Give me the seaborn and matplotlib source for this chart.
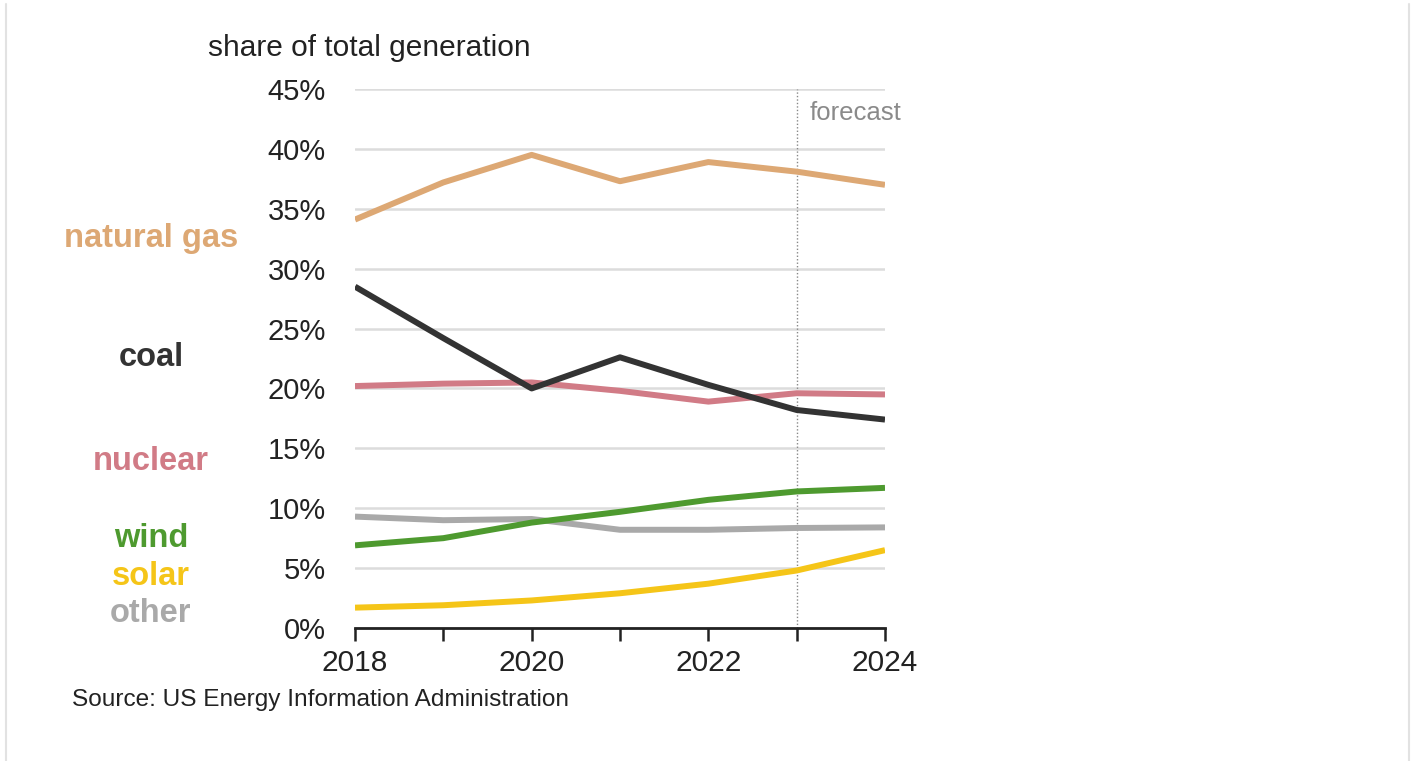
import matplotlib
matplotlib.use("Agg")
import matplotlib.pyplot as plt
import matplotlib.transforms as mtransforms
import pandas as pd
import seaborn as sns

years = [2018, 2019, 2020, 2021, 2022, 2023, 2024]
natural_gas = [34.1, 37.2, 39.5, 37.3, 38.9, 38.1, 37.0]
coal = [28.5, 24.2, 20.0, 22.6, 20.3, 18.2, 17.4]
nuclear = [20.2, 20.4, 20.5, 19.8, 18.9, 19.6, 19.5]
wind = [6.9, 7.5, 8.8, 9.7, 10.7, 11.4, 11.7]
other = [9.3, 9.0, 9.1, 8.2, 8.2, 8.35, 8.4]
solar = [1.7, 1.9, 2.3, 2.9, 3.7, 4.8, 6.5]

sources = ["other", "solar", "wind", "nuclear", "coal", "natural gas"]
series = [other, solar, wind, nuclear, coal, natural_gas]
colors = {
    "natural gas": "#DDA874",
    "coal": "#333333",
    "nuclear": "#D17B86",
    "wind": "#4E9A2F",
    "solar": "#F5C518",
    "other": "#A9A9A9",
}
# label heights (in % units) for the inline legend on the left
label_y = {"natural gas": 32.55, "coal": 22.6, "nuclear": 13.9,
           "wind": 7.5, "solar": 4.3, "other": 1.25}
forecast_year = 2023

rows = []
for name, vals in zip(sources, series):
    for yr, v in zip(years, vals):
        rows.append({"year": yr, "share": v, "source": name})
df = pd.DataFrame(rows)

sns.set_style("white")
plt.rcParams["font.family"] = ["Liberation Sans", "DejaVu Sans"]

fig = plt.figure(figsize=(14.15, 7.61), dpi=100)
ax = fig.add_axes([355 / 1415, 133 / 761, 530 / 1415, 539 / 761])

sns.lineplot(data=df, x="year", y="share", hue="source", palette=colors,
             hue_order=sources, linewidth=4.3, legend=False, ax=ax,
             solid_capstyle="butt")

ax.set_xlim(2018, 2024)
ax.set_ylim(0, 45)
ax.set_yticks(range(0, 46, 5))
ax.set_yticklabels([f"{t}%" for t in range(0, 46, 5)], fontsize=21, color="#222222")
ax.set_xticks(years)
ax.set_xticklabels([str(y) if y % 2 == 0 else "" for y in years], fontsize=21.5, color="#222222")
ax.tick_params(axis="x", bottom=True, length=9, width=1.8, color="#222222", pad=6)
ax.tick_params(axis="y", left=False, length=0, pad=21)
ax.set_xlabel("")
ax.set_ylabel("")
ax.grid(axis="y", color="#DCDCDC", linewidth=1.8)
ax.set_axisbelow(True)
for s in ["left", "right", "top"]:
    ax.spines[s].set_visible(False)
ax.spines["bottom"].set_color("#222222")
ax.spines["bottom"].set_linewidth(2)

ax.axvline(forecast_year, color="#888888", linestyle=(0, (1, 1.5)), linewidth=1, zorder=1)
ax.text(forecast_year + 0.15, 43.0, "forecast", fontsize=18.5, color="#8A8A8A",
        ha="left", va="center")

trans = mtransforms.blended_transform_factory(ax.transAxes, ax.transData)
for name in sources:
    ax.text(-0.385, label_y[name], name, transform=trans, fontsize=23.5,
            fontweight="bold", color=colors[name], ha="center", va="center")

fig.text(208 / 1415, 1 - 48 / 761, "share of total generation", fontsize=21.5,
         color="#222222", ha="left", va="center")
fig.text(72 / 1415, 1 - 700 / 761, "Source: US Energy Information Administration",
         fontsize=17.6, color="#222222", ha="left", va="center")

# faint frame of the original screenshot
fig.add_artist(plt.Line2D([6 / 1415, 6 / 1415], [0, 1 - 4 / 761],
                          transform=fig.transFigure, color="#E2E2E2", linewidth=1.5))
fig.add_artist(plt.Line2D([1409 / 1415, 1409 / 1415], [0, 1 - 4 / 761],
                          transform=fig.transFigure, color="#E2E2E2", linewidth=1.5))

fig.savefig("out.png", dpi=100)
